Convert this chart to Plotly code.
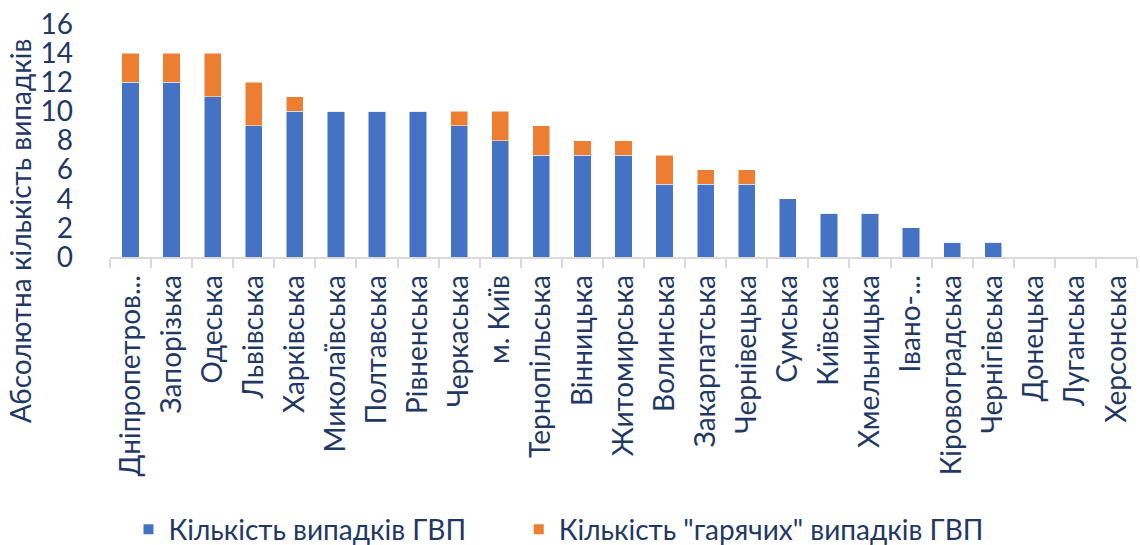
import plotly.graph_objects as go

regions = ["Дніпропетров...", "Запорізька", "Одеська", "Львівська", "Харківська",
           "Миколаївська", "Полтавська", "Рівненська", "Черкаська", "м. Київ",
           "Тернопільська", "Вінницька", "Житомирська", "Волинська", "Закарпатська",
           "Чернівецька", "Сумська", "Київська", "Хмельницька", "Івано-...",
           "Кіровоградська", "Чернігівська", "Донецька", "Луганська", "Херсонська"]
cases = [12, 12, 11, 9, 10, 10, 10, 10, 9, 8, 7, 7, 7, 5, 5, 5, 4, 3, 3, 2, 1, 1, 0, 0, 0]
hot_cases = [2, 2, 3, 3, 1, 0, 0, 0, 1, 2, 2, 1, 1, 2, 1, 1, 0, 0, 0, 0, 0, 0, 0, 0, 0]
y_ticks = [0, 2, 4, 6, 8, 10, 12, 14, 16]

TXT = "#1F3864"
FONT = "Lato"
FS = 28

fig = go.Figure()
fig.add_trace(go.Bar(x=regions, y=cases, name="Кількість випадків ГВП",
                     marker=dict(color="#4472C4", line=dict(color="white", width=0.5)),
                     legend="legend"))
fig.add_trace(go.Bar(x=regions, y=hot_cases, name='Кількість "гарячих" випадків ГВП',
                     marker=dict(color="#ED7D31", line=dict(color="white", width=0.5)),
                     legend="legend2"))

leg_common = dict(orientation="h", xanchor="left", y=-1.17, yanchor="middle",
                  font=dict(size=FS, color=TXT, family=FONT), itemsizing="constant",
                  bgcolor="rgba(0,0,0,0)")

fig.update_layout(
    barmode="stack",
    bargap=0.58,
    width=1140, height=545,
    margin=dict(l=110, r=3, t=24, b=288, autoexpand=False),
    paper_bgcolor="white", plot_bgcolor="white",
    font=dict(family=FONT, color=TXT, size=FS),
    showlegend=True,
    legend=dict(x=0.018, **leg_common),
    legend2=dict(x=0.398, **leg_common),
    xaxis=dict(type="category", tickangle=-90, ticks="outside", tickson="boundaries",
               ticklen=9, tickcolor="#D9D9D9", tickwidth=2, showline=True,
               linecolor="#D9D9D9", linewidth=2, showgrid=False, automargin=False,
               ticklabelstandoff=5,
               tickfont=dict(size=FS, color=TXT, family=FONT)),
    yaxis=dict(range=[0, 16], tickvals=y_ticks, showgrid=False, zeroline=False,
               showline=False, automargin=False, ticks="", ticklabelstandoff=36,
               tickfont=dict(size=FS, color=TXT, family=FONT)),
    annotations=[dict(text="Абсолютна кількість випадків", textangle=-90,
                      xref="paper", yref="paper", x=-0.087, y=0.11,
                      xanchor="center", yanchor="middle", showarrow=False,
                      font=dict(size=FS, color=TXT, family=FONT))],
)

fig.write_html("out.html", config={"displayModeBar": False},
               post_script="document.body.style.margin='0';document.body.style.overflow='hidden';")
